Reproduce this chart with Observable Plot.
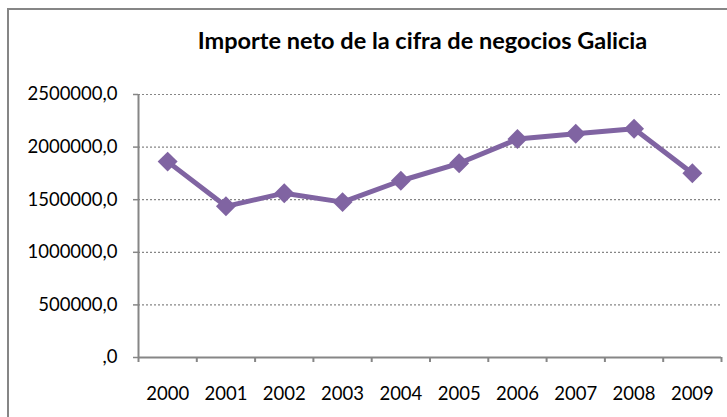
<!DOCTYPE html>
<html><head><meta charset="utf-8">
<script src="https://cdn.jsdelivr.net/npm/d3@7"></script>
<script src="https://cdn.jsdelivr.net/npm/@observablehq/plot@0.6"></script>
<style>
body{margin:0;background:#fff;}
#wrap{position:relative;width:727px;height:417px;overflow:hidden;font-family:Lato,sans-serif;background:#fff;}
#frame{position:absolute;left:7px;top:8px;width:760px;height:460px;border-left:2.5px solid #868686;border-top:2.5px solid #868686;box-sizing:border-box;}
#title{position:absolute;left:0;width:845px;top:29px;text-align:center;font-weight:bold;font-size:23.5px;line-height:1;color:#000;white-space:nowrap;}
#chart{position:absolute;left:0;top:0;}
</style>
</head><body>
<div id="wrap"><div id="frame"></div><div id="chart"></div><div id="title">Importe neto de la cifra de negocios Galicia</div></div>
<script>
const years = [2000, 2001, 2002, 2003, 2004, 2005, 2006, 2007, 2008, 2009];
const values = [1862000, 1437000, 1562000, 1477000, 1680000, 1846000, 2076000, 2127000, 2174000, 1751000];
const yTicks = [0, 500000, 1000000, 1500000, 2000000, 2500000];
const xBoundaries = [1999.5, 2000.5, 2001.5, 2002.5, 2003.5, 2004.5, 2005.5, 2006.5, 2007.5, 2008.5, 2009.5];

const data = years.map((y, i) => ({year: y, value: values[i]}));
const grey = "#868686";
const purple = "#8064A2";
const fmtY = d => d === 0 ? ",0" : d + ",0";

const chart = Plot.plot({
  width: 727,
  height: 417,
  marginLeft: 138,
  marginRight: 6,
  marginTop: 94,
  marginBottom: 60,
  style: {fontFamily: "Lato, sans-serif", color: "#000", background: "transparent"},
  x: {domain: [1999.5, 2009.5], axis: null, label: null},
  y: {domain: [0, 2500000], axis: null, label: null},
  marks: [
    Plot.ruleY(yTicks.filter(d => d > 0), {stroke: grey, strokeWidth: 1.2, strokeDasharray: "2,2"}),
    Plot.axisY({ticks: yTicks, tickFormat: fmtY, tickSize: 5, tickPadding: 16, fontSize: 18.5, stroke: grey, strokeWidth: 1.5, fill: "#000", label: null}),
    Plot.axisX({ticks: xBoundaries, tickFormat: () => "", tickSize: 5, stroke: grey, strokeWidth: 2, label: null}),
    Plot.axisX({ticks: years, tickFormat: d => String(d), tickSize: 0, tickPadding: 29, fontSize: 18.5, fill: "#000", label: null}),
    Plot.ruleX([1999.5], {y1: 0, y2: 2500000, stroke: grey, strokeWidth: 2}),
    Plot.ruleY([0], {stroke: grey, strokeWidth: 2}),
    Plot.line(data, {x: "year", y: "value", stroke: purple, strokeWidth: 5}),
    Plot.dot(data, {x: "year", y: "value", symbol: "diamond2", r: 9, fill: purple, stroke: "none"})
  ]
});
document.getElementById("chart").appendChild(chart);
</script>
</body></html>
